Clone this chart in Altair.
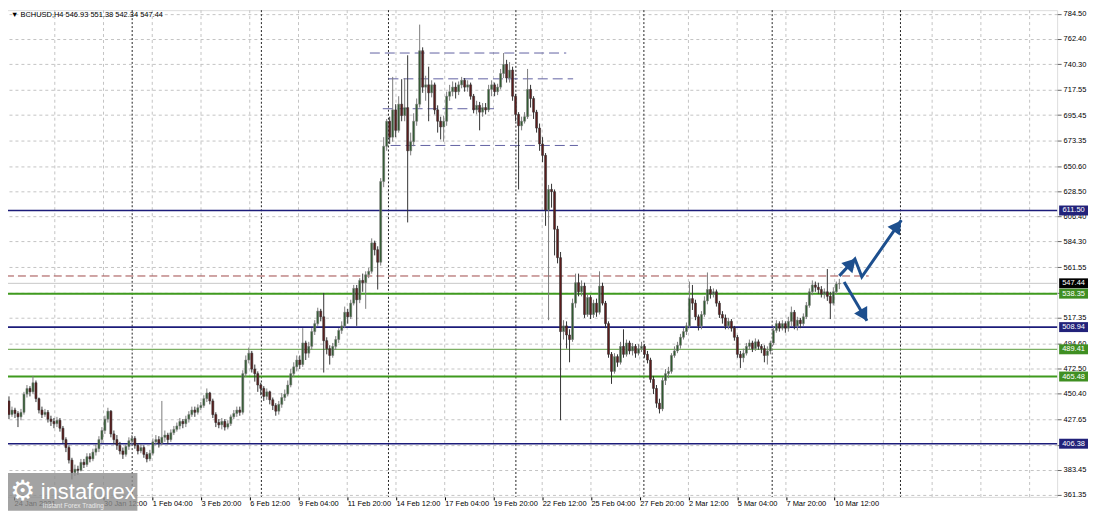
import altair as alt
import pandas as pd

# ---------------- data ----------------
TITLE = "\u25bc BCHUSD,H4  546.93 551.38 542.34 547.44"
FIRST_OPEN = 444.0

CLOSES = [
    432, 436, 433, 430, 434, 450, 455, 452, 460, 446,
    436, 432, 434, 428, 426, 424, 427, 420, 410, 403,
    392, 381, 384, 383, 390, 388, 395, 393, 399, 402,
    410, 418, 428, 435, 415, 410, 405, 400, 397, 404,
    409, 411, 405, 400, 403, 397, 393, 398, 408, 410,
    407, 412, 414, 410, 416, 419, 422, 426, 424, 428,
    432, 436, 434, 438, 440, 446, 451, 444, 432, 425,
    423, 426, 421, 424, 430, 433, 436, 434, 468, 480,
    486, 472, 468, 458, 455, 448, 452, 445, 440, 435,
    441, 447, 450, 458, 468, 474, 480, 476, 495, 486,
    492, 505, 512, 523, 518, 497, 490, 484, 492, 498,
    506, 510, 522, 518, 530, 543, 533, 550, 548, 555,
    558, 583, 577, 566, 637, 668, 690, 676, 700, 682,
    705, 695, 702, 664, 672, 690, 705, 752, 720, 722,
    715, 722, 700, 690, 685, 690, 712, 716, 720, 716,
    722, 726, 720, 722, 712, 700, 704, 698, 702, 700,
    718, 722, 716, 720, 732, 740, 728, 735, 712, 696,
    686, 690, 694, 718, 710, 698, 684, 670, 660, 612,
    630, 628, 595, 570, 505, 510, 502, 498, 530, 548,
    540, 545, 520, 535, 520, 530, 522, 545, 530, 512,
    485, 470, 483, 478, 492, 485, 495, 488, 492, 486,
    490, 492, 485, 480, 463, 455, 442, 437, 462, 468,
    470, 484, 488, 493, 500, 505, 510, 534, 530, 518,
    510, 520, 532, 542, 538, 540, 530, 520, 517, 510,
    514, 508, 500, 485, 482, 486, 492, 495, 490, 496,
    492, 490, 484, 488, 495, 506, 512, 508, 512, 508,
    514, 522, 510, 515, 512, 518, 528, 540, 546, 544,
    542, 538, 540, 536, 530, 540, 546.93, 547.44,
]
HIGHS = [
    448, 439, 438, 435, 437, 452, 458, 457, 466, 462,
    447, 439, 437, 436, 431, 429, 430, 429, 422, 412,
    405, 394, 388, 387, 393, 393, 398, 398, 402, 406,
    413, 421, 431, 438, 436, 418, 414, 408, 403, 406,
    412, 414, 413, 407, 406, 405, 399, 401, 411, 414,
    413, 444, 418, 416, 419, 422, 425, 429, 428, 431,
    435, 439, 439, 441, 443, 449, 455, 452, 446, 434,
    428, 429, 428, 427, 432, 436, 439, 439, 471, 484,
    491, 488, 476, 470, 460, 457, 455, 453, 447, 442,
    444, 451, 454, 462, 472, 478, 484, 484, 508, 497,
    496, 508, 515, 526, 525, 539, 500, 493, 495, 501,
    508, 514, 527, 525, 533, 546, 546, 552, 556, 558,
    561, 587, 585, 580, 640, 676, 692, 694, 729, 705,
    712, 727, 728, 748, 680, 697, 710, 775, 755, 730,
    738, 726, 724, 704, 694, 695, 716, 722, 725, 724,
    725, 729, 728, 726, 724, 714, 708, 707, 706, 706,
    722, 726, 724, 723, 736, 750, 744, 742, 738, 714,
    698, 694, 698, 736, 722, 712, 700, 688, 676, 662,
    634, 635, 630, 598, 575, 515, 514, 507, 534, 556,
    556, 550, 548, 538, 537, 533, 534, 558, 548, 532,
    514, 487, 486, 485, 496, 507, 498, 497, 495, 494,
    494, 496, 494, 488, 482, 466, 458, 446, 465, 472,
    474, 486, 492, 496, 503, 508, 513, 549, 546, 533,
    520, 523, 536, 557, 545, 543, 542, 532, 523, 520,
    517, 516, 510, 502, 488, 490, 495, 498, 497, 499,
    498, 494, 493, 492, 497, 509, 515, 514, 515, 514,
    518, 527, 524, 518, 517, 521, 531, 543, 550, 549,
    548, 545, 543, 560, 540, 544, 549, 551.38,
]
LOWS = [
    428, 430, 429, 421, 427, 432, 447, 448, 450, 443,
    433, 429, 430, 425, 422, 420, 421, 417, 407, 399,
    389, 375, 378, 379, 382, 385, 386, 390, 391, 396,
    399, 407, 415, 425, 412, 406, 401, 397, 393, 395,
    401, 406, 402, 397, 398, 394, 390, 391, 396, 405,
    403, 405, 408, 406, 408, 414, 417, 419, 420, 421,
    425, 430, 430, 432, 436, 438, 443, 441, 429, 421,
    420, 419, 418, 419, 422, 428, 430, 431, 432, 465,
    477, 469, 461, 452, 449, 444, 445, 441, 436, 431,
    432, 438, 444, 448, 456, 465, 470, 472, 474, 480,
    482, 489, 502, 510, 514, 469, 485, 476, 482, 489,
    495, 503, 508, 512, 516, 528, 510, 530, 540, 525,
    552, 556, 572, 542, 563, 632, 664, 670, 672, 676,
    680, 690, 690, 601, 660, 668, 686, 702, 715, 708,
    690, 711, 696, 680, 674, 672, 686, 708, 712, 710,
    713, 719, 716, 716, 709, 697, 696, 682, 694, 696,
    698, 712, 712, 713, 718, 728, 724, 724, 708, 690,
    630, 682, 688, 692, 702, 692, 680, 664, 654, 598,
    515, 614, 572, 565, 427, 498, 490, 478, 496, 526,
    536, 536, 517, 518, 516, 517, 518, 520, 528, 508,
    482, 459, 468, 474, 476, 482, 483, 485, 484, 482,
    484, 487, 482, 477, 460, 450, 438, 433, 435, 458,
    464, 468, 482, 486, 490, 498, 502, 508, 524, 515,
    506, 507, 518, 529, 534, 535, 527, 517, 512, 507,
    507, 505, 497, 482, 473, 478, 484, 489, 487, 488,
    489, 486, 478, 476, 485, 493, 504, 505, 506, 504,
    505, 510, 507, 506, 508, 510, 516, 526, 537, 540,
    538, 535, 534, 532, 516, 528, 538, 542.34,
]

AXIS_PRICES = [784.50, 762.40, 740.30, 717.55, 695.45, 673.35, 650.60, 628.50,
               606.40, 584.30, 561.55, 539.45, 517.35, 494.60, 472.50, 450.40,
               427.65, 405.55, 383.45, 361.35]

TIME_LABELS = ["24 Jan 2021", "30 Jan 12:00", "1 Feb 04:00", "3 Feb 20:00",
               "6 Feb 12:00", "9 Feb 04:00", "11 Feb 20:00", "14 Feb 12:00",
               "17 Feb 04:00", "19 Feb 20:00", "22 Feb 12:00", "25 Feb 04:00",
               "27 Feb 20:00", "2 Mar 12:00", "5 Mar 04:00", "7 Mar 20:00",
               "10 Mar 12:00"]
# candle-index positions of the time labels / grid / week separators
TIME_TICKS = [1.7, 31.54, 47.8, 64.06, 80.32, 96.58, 112.84, 129.1, 145.36,
              161.62, 177.88, 194.14, 210.4, 226.66, 242.92, 259.18, 275.44]
VGRID = [15.28, 31.54, 47.8, 64.06, 80.32, 96.58, 112.84, 129.1, 145.36, 161.62,
         177.88, 194.14, 210.4, 226.66, 242.92, 259.18, 275.44, 291.7, 307.96,
         324.22, 340.48]
WEEK_SEPARATORS = [41.1, 84.2, 126.6, 169.1, 211.8, 254.6, 297.4]

NAVY_LEVELS = [611.50, 508.94, 406.38]
GREEN_THICK_LEVELS = [538.35, 465.48]
GREEN_THIN_LEVELS = [489.41]
RED_DASH_LEVEL = 553.9
RED_DASH_END = 286.8
BID = 547.44

BOX_PRICES = [611.50, 547.44, 538.35, 508.94, 489.41, 465.48, 406.38]
BOX_KIND = ["navy", "black", "green", "navy", "green", "green", "navy"]

# dashed levels at the top (price, start index, end index)
TOP_DASH_PRICE = [750.0, 727.3, 701.0, 668.7]
TOP_DASH_START = [120.4, 126.6, 124.7, 127.3]
TOP_DASH_END = [185.9, 188.2, 161.8, 189.8]

# projected arrows (candle index, price)
ARROW_A_I = [277.0, 282.2, 284.5, 297.7]
ARROW_A_P = [554.0, 568.9, 553.1, 603.0]
ARROW_B_I = [278.6, 286.2]
ARROW_B_P = [548.7, 514.6]
HEAD_I = [281.0, 296.4, 285.2]
HEAD_P = [565.0, 598.0, 519.2]
HEAD_ANG = [43, 36, 150]

# ---------------- styling ----------------
W, H = 1061, 489
X_DOM = [-0.99, 348.0]
Y_DOM = [359.6, 787.7]
FONT = "Liberation Sans"
NAVY = "#1c1c7a"
GREEN = "#3f9a1e"
ARROW = "#1d4f8e"
BOX_COL = {"navy": "#22227a", "black": "#000000", "green": "#3f8f22"}

opens = [FIRST_OPEN] + CLOSES[:-1]
n = len(CLOSES)
df = pd.DataFrame({
    "i": list(range(n)), "open": opens, "close": CLOSES,
    "high": HIGHS, "low": LOWS,
})
up = df["close"] >= df["open"]
df["fillc"] = ["#2f5a2f" if u else "#5e1c1c" for u in up]
df["wickc"] = ["#7c7c7c" if u else "#333333" for u in up]

xs = alt.Scale(domain=X_DOM, nice=False, zero=False)
ys = alt.Scale(domain=Y_DOM, nice=False, zero=False)

labels_js = "[" + ",".join("'" + s + "'" for s in TIME_LABELS) + "]"
ticks_js = "[" + ",".join(repr(float(t)) for t in TIME_TICKS) + "]"

xaxis = alt.Axis(values=TIME_TICKS, labelExpr=labels_js + "[indexof(" + ticks_js + ", datum.value)]",
                 labelAlign="left", labelBaseline="top", labelPadding=0, tickSize=3, grid=False,
                 domain=False, labelFontSize=7.5, labelFont=FONT, labelColor="#000000",
                 tickColor="#000000", labelOverlap=False, labelFlush=False, title=None)
yaxis = alt.Axis(orient="right", values=AXIS_PRICES, format=".2f", tickSize=4, grid=True,
                 gridDash=[3, 3], gridColor="#c4c4c4", domain=False, labelFontSize=7.5,
                 labelFont=FONT, labelColor="#000000", tickColor="#666666", labelPadding=2,
                 labelOverlap=False, labelFlush=False, title=None)


def X(f):
    return alt.X(f, type="quantitative", scale=xs, axis=xaxis)


def Y(f):
    return alt.Y(f, type="quantitative", scale=ys, axis=yaxis)


base = alt.Chart(df)

vgrid = alt.Chart(pd.DataFrame({"x": VGRID})).mark_rule(
    color="#c4c4c4", strokeDash=[3, 3], strokeWidth=1).encode(x=X("x"))
seps = alt.Chart(pd.DataFrame({"x": WEEK_SEPARATORS})).mark_rule(
    color="#222222", strokeDash=[2, 2], strokeWidth=1).encode(x=X("x"))

bid = alt.Chart(pd.DataFrame({"p": [BID]})).mark_rule(color="#c8c8c8", strokeWidth=1).encode(y=Y("p"))
navy = alt.Chart(pd.DataFrame({"p": NAVY_LEVELS})).mark_rule(color=NAVY, strokeWidth=1.6).encode(y=Y("p"))
gthick = alt.Chart(pd.DataFrame({"p": GREEN_THICK_LEVELS})).mark_rule(color=GREEN, strokeWidth=2).encode(y=Y("p"))
gthin = alt.Chart(pd.DataFrame({"p": GREEN_THIN_LEVELS})).mark_rule(color="#5a9a3a", strokeWidth=1).encode(y=Y("p"))
red = alt.Chart(pd.DataFrame({"p": [RED_DASH_LEVEL], "a": [X_DOM[0]], "b": [RED_DASH_END]})).mark_rule(
    color="#a04a4a", strokeWidth=1, strokeDash=[8, 4]).encode(x=X("a"), x2="b:Q", y=Y("p"))

topdash = alt.Chart(pd.DataFrame({"p": TOP_DASH_PRICE, "a": TOP_DASH_START, "b": TOP_DASH_END})).mark_rule(
    color="#6262a2", strokeWidth=1, strokeDash=[10, 5]).encode(x=X("a"), x2="b:Q", y=Y("p"))

wicks = base.mark_rule(strokeWidth=1).encode(
    x=X("i"), y=Y("low"), y2="high:Q", color=alt.Color("wickc:N", scale=None))
bodies = base.mark_bar(size=2, strokeWidth=0.6).encode(
    x=X("i"), y=Y("open"), y2="close:Q",
    fill=alt.Fill("fillc:N", scale=None), stroke=alt.Stroke("wickc:N", scale=None))

arr_df = pd.DataFrame({
    "path": ["a"] * len(ARROW_A_I) + ["b"] * len(ARROW_B_I),
    "o": list(range(len(ARROW_A_I))) + list(range(len(ARROW_B_I))),
    "i": ARROW_A_I + ARROW_B_I, "p": ARROW_A_P + ARROW_B_P,
})
arrows = alt.Chart(arr_df).mark_line(color=ARROW, strokeWidth=3, strokeJoin="miter").encode(
    x=X("i"), y=Y("p"), detail="path:N", order="o:Q")
heads = alt.Chart(pd.DataFrame({"i": HEAD_I, "p": HEAD_P, "ang": HEAD_ANG})).mark_point(
    shape="triangle-up", filled=True, size=230, color=ARROW, opacity=1).encode(
    x=X("i"), y=Y("p"), angle=alt.Angle("ang:Q", scale=None))

half = 5.0 * (Y_DOM[1] - Y_DOM[0]) / H
box_df = pd.DataFrame({
    "p": BOX_PRICES, "lo": [v - half for v in BOX_PRICES], "hi": [v + half for v in BOX_PRICES],
    "c": [BOX_COL[k] for k in BOX_KIND], "t": ["%.2f" % v for v in BOX_PRICES],
})
boxes = alt.Chart(box_df).mark_rect().encode(
    x=alt.value(W + 2), x2=alt.value(W + 31), y=Y("hi"), y2="lo:Q",
    fill=alt.Fill("c:N", scale=None))
box_text = alt.Chart(box_df).mark_text(fontSize=7.5, font=FONT, color="#ffffff",
                                       align="center", baseline="middle").encode(
    x=alt.value(W + 16.5), y=Y("p"), text="t:N")

title = alt.Chart(pd.DataFrame({"t": [TITLE]})).mark_text(
    fontSize=7.5, font=FONT, color="#000000", align="left", baseline="middle").encode(
    x=alt.value(10), y=alt.value(5), text="t:N")

wm_box = alt.Chart(pd.DataFrame({"k": [1]})).mark_rect(color="#8c8c8c", opacity=0.8).encode(
    x=alt.value(0), x2=alt.value(137), y=alt.value(465), y2=alt.value(503))
wm_gear = alt.Chart(pd.DataFrame({"t": ["\u2699"]})).mark_text(
    fontSize=28, font="DejaVu Sans", color="#ffffff", align="left", baseline="middle").encode(
    x=alt.value(9), y=alt.value(484), text="t:N")
wm_name = alt.Chart(pd.DataFrame({"t": ["instaforex"]})).mark_text(
    fontSize=22, font=FONT, color="#ffffff", align="left", baseline="alphabetic").encode(
    x=alt.value(40), y=alt.value(491), text="t:N")
wm_sub = alt.Chart(pd.DataFrame({"t": ["Instant Forex Trading"]})).mark_text(
    fontSize=6.5, font=FONT, color="#e8e8e8", align="left", baseline="middle").encode(
    x=alt.value(42), y=alt.value(498), text="t:N")

chart = alt.layer(
    vgrid, seps, bid, red, gthin, navy, gthick, topdash, wicks, bodies,
    arrows, heads, boxes, box_text, title, wm_box, wm_gear, wm_name, wm_sub,
).properties(width=W, height=H, padding={"left": -8, "top": 0, "right": 0, "bottom": 0}).configure_view(
    stroke="#000000", strokeWidth=1).configure(background="#ffffff")

chart.save("out.html", embed_options={"renderer": "svg", "actions": False})
